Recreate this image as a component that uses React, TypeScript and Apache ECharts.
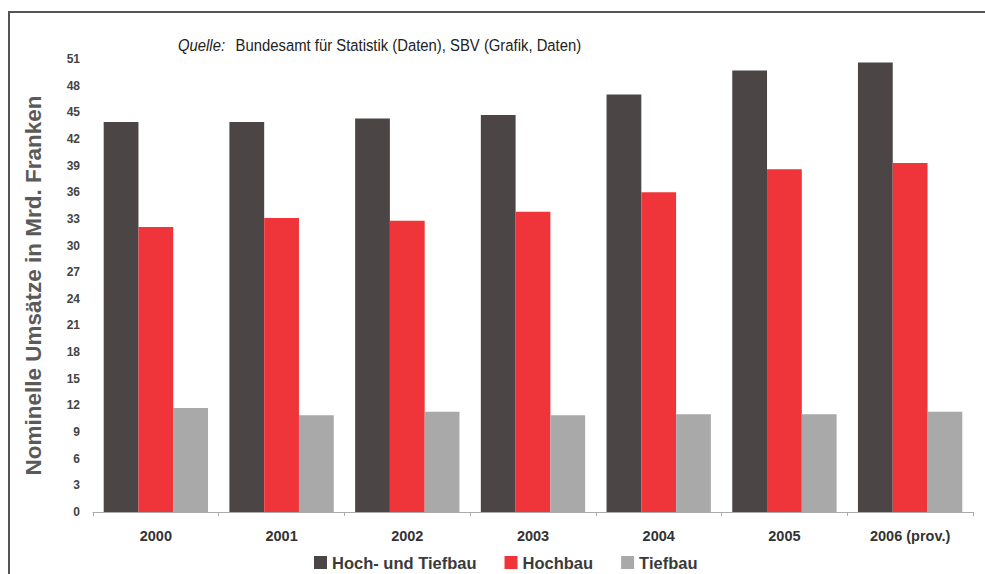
import React, { useEffect, useRef } from "react";
import * as echarts from "echarts";

const categories = ["2000", "2001", "2002", "2003", "2004", "2005", "2006 (prov.)"];
const hochUndTiefbau = [43.9, 43.9, 44.3, 44.7, 47.0, 49.7, 50.6];
const hochbau = [32.1, 33.1, 32.8, 33.8, 36.0, 38.6, 39.3];
const tiefbau = [11.7, 10.9, 11.3, 10.9, 11.0, 11.0, 11.3];
const seriesNames = ["Hoch- und Tiefbau", "Hochbau", "Tiefbau"];
const yTickLabels = ["0", "3", "6", "9", "12", "15", "18", "21", "24", "27", "30", "33", "36", "39", "42", "45", "48", "51"];

export default function App() {
  const ref = useRef<HTMLDivElement>(null);
  useEffect(() => {
    if (!ref.current) return;
    const chart = echarts.init(ref.current, null, { renderer: "svg" });
    const colors = ["#4b4546", "#ef3539", "#a9a9a9"];
    const font = "Liberation Sans, Arial, sans-serif";
    chart.setOption({
      animation: false,
      backgroundColor: "#ffffff",
      color: colors,
      grid: { left: 93, right: 12, top: 59, bottom: 62 },
      legend: {
        data: seriesNames,
        top: 549,
        left: 309,
        itemWidth: 13,
        itemHeight: 13,
        itemGap: 28,
        icon: "rect",
        textStyle: { fontFamily: font, fontWeight: "bold", fontSize: 16.5, color: "#3a3a3a" },
      },
      xAxis: {
        type: "category",
        data: categories,
        axisLine: { show: true, lineStyle: { color: "#aaaaaa", width: 1 } },
        axisTick: { show: true, length: 4, lineStyle: { color: "#aaaaaa" } },
        axisLabel: { fontFamily: font, fontWeight: "bold", fontSize: 14.5, color: "#333333", margin: 16 },
      },
      yAxis: {
        type: "value",
        min: 0,
        max: 51,
        interval: 3,
        name: "Nominelle Umsätze in Mrd. Franken",
        nameLocation: "middle",
        nameGap: 48,
        nameRotate: 90,
        nameTextStyle: { fontFamily: font, fontWeight: "bold", fontSize: 22.5, color: "#5a5a5a" },
        axisLine: { show: false },
        axisTick: { show: false },
        splitLine: { show: false },
        axisLabel: {
          fontFamily: font,
          fontWeight: "bold",
          fontSize: 12,
          color: "#444444",
          margin: 13,
          formatter: (v: number) => yTickLabels[Math.round(v / 3)] ?? String(v),
        },
      },
      series: [
        { name: seriesNames[0], type: "bar", data: hochUndTiefbau, barGap: "0%", barCategoryGap: "17%" },
        { name: seriesNames[1], type: "bar", data: hochbau, barGap: "0%", barCategoryGap: "17%" },
        { name: seriesNames[2], type: "bar", data: tiefbau, barGap: "0%", barCategoryGap: "17%" },
      ],
      graphic: [
        {
          type: "rect",
          shape: { x: 9, y: 12, width: 1000, height: 600 },
          style: { fill: "none", stroke: "#555555", lineWidth: 2 },
          silent: true,
        },
        {
          type: "group",
          x: 178,
          y: 45,
          scaleX: 0.9,
          children: [
            {
              type: "text",
              x: 0,
              y: 0,
              style: { text: "Quelle:", fontFamily: font, fontStyle: "italic", fontSize: 16.5, fill: "#222222", verticalAlign: "middle" },
            },
            {
              type: "text",
              x: 64,
              y: 0,
              style: {
                text: "Bundesamt für Statistik (Daten), SBV (Grafik, Daten)",
                fontFamily: font,
                fontSize: 16.5,
                fill: "#222222",
                verticalAlign: "middle",
              },
            },
          ],
        },
      ],
    });
    return () => chart.dispose();
  }, []);
  return <div ref={ref} style={{ position: "fixed", left: 0, top: 0, width: 985, height: 574 }} />;
}
